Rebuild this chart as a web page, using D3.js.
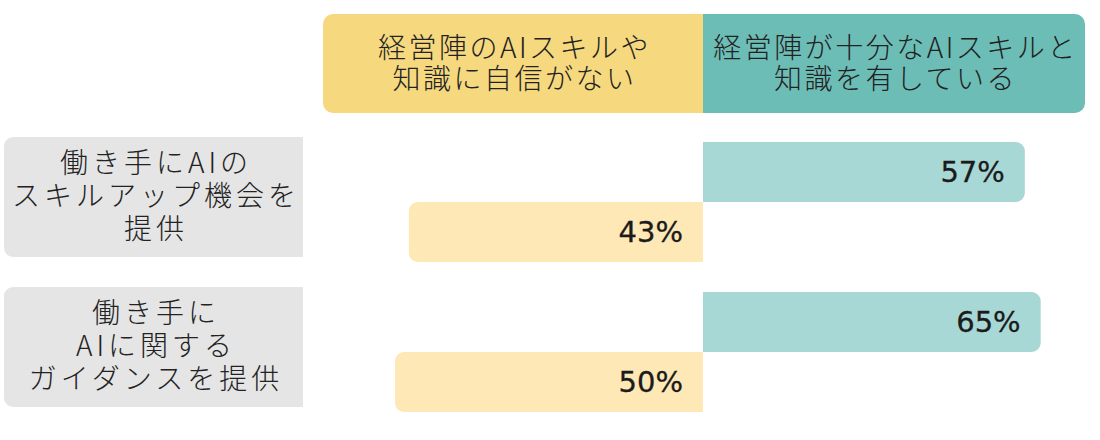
<!DOCTYPE html>
<html>
<head>
<meta charset="utf-8">
<script src="https://cdn.jsdelivr.net/npm/d3@7"></script>
<style>
  html, body { margin: 0; padding: 0; background: #fff; }
  svg { display: block; }
</style>
</head>
<body>
<svg id="chart"></svg>
<script>
const categories = ["働き手にAIのスキルアップ機会を提供", "働き手にAIに関するガイダンスを提供"];
const categoryLines = [["働き手にAIの", "スキルアップ機会を", "提供"], ["働き手に", "AIに関する", "ガイダンスを提供"]];
const seriesNames = ["経営陣のAIスキルや知識に自信がない", "経営陣が十分なAIスキルと知識を有している"];
const seriesLines = [["経営陣のAIスキルや", "知識に自信がない"], ["経営陣が十分なAIスキルと", "知識を有している"]];
const lacking = [43, 50];
const sufficient = [57, 65];

const width = 1100, height = 440;
const cx = 703;
const jp = "'Noto Sans CJK JP', 'Noto Sans', sans-serif";

const svg = d3.select("#chart").attr("width", width).attr("height", height);

// bar length from the centre line
const w = d3.scaleLinear([0, 100], [209, 407]);
const y = d3.scaleBand(categories, [138, 438]).paddingInner(0).paddingOuter(0);

// rect with only chosen corners rounded
function rr(x0, y0, x1, y1, r, left, right) {
  const p = d3.path();
  const rl = left ? r : 0, rr_ = right ? r : 0;
  p.moveTo(x0 + rl, y0);
  p.lineTo(x1 - rr_, y0);
  if (rr_) p.arcTo(x1, y0, x1, y0 + rr_, rr_);
  p.lineTo(x1, y1 - rr_);
  if (rr_) p.arcTo(x1, y1, x1 - rr_, y1, rr_);
  p.lineTo(x0 + rl, y1);
  if (rl) p.arcTo(x0, y1, x0, y1 - rl, rl);
  p.lineTo(x0, y0 + rl);
  if (rl) p.arcTo(x0, y0, x0 + rl, y0, rl);
  p.closePath();
  return p.toString();
}

// header
const headers = [
  {x0: 323, x1: cx, fill: "#f6d97f", left: true, right: false, lines: seriesLines[0]},
  {x0: cx, x1: 1085, fill: "#6dbdb7", left: false, right: true, lines: seriesLines[1]}
];
const hg = svg.append("g");
hg.selectAll("path").data(headers).join("path")
    .attr("d", d => rr(d.x0, 14, d.x1, 113, 10, d.left, d.right))
    .attr("fill", d => d.fill);
hg.selectAll("text").data(headers).join("text")
    .attr("x", d => (d.x0 + d.x1) / 2 + 1.5)
    .attr("y", 48)
    .attr("text-anchor", "middle")
    .attr("font-family", jp)
    .attr("font-weight", 300)
    .attr("font-size", 28)
    .attr("letter-spacing", 2.5)
    .attr("fill", "#222")
    .selectAll("tspan").data(d => d.lines).join("tspan")
    .attr("x", function() { return d3.select(this.parentNode).attr("x"); })
    .attr("dy", (d, i) => i === 0 ? "0.35em" : 31)
    .text(d => d);

// category boxes
const cg = svg.append("g").selectAll("g").data(categories).join("g")
    .attr("transform", d => `translate(0,${y(d)})`);
cg.append("path")
    .attr("d", rr(4, -1, 303, 119, 9, true, false))
    .attr("fill", "#e5e5e5");
cg.append("text")
    .attr("x", 156)
    .attr("y", 25)
    .attr("text-anchor", "middle")
    .attr("font-family", jp)
    .attr("font-weight", 300)
    .attr("font-size", 28)
    .attr("letter-spacing", 4)
    .attr("fill", "#222")
    .selectAll("tspan").data((d, i) => categoryLines[i]).join("tspan")
    .attr("x", 156)
    .attr("dy", (d, i) => i === 0 ? "0.35em" : 33)
    .text(d => d);

// bars
const pct = "'DejaVu Sans', sans-serif";
cg.append("path")
    .attr("d", (d, i) => rr(cx, 4, cx + w(sufficient[i]), 64, 9, false, true))
    .attr("fill", "#a8d8d6");
cg.append("path")
    .attr("d", (d, i) => rr(cx - w(lacking[i]), 64, cx, 124, 9, true, false))
    .attr("fill", "#fde8b6");

const labelStyle = t => t
    .attr("text-anchor", "end")
    .attr("dy", "0.36em")
    .attr("font-family", pct)
    .attr("font-size", 29)
    .attr("fill", "#1b1b1b")
    .attr("stroke", "#1b1b1b")
    .attr("stroke-width", 0.3);

cg.append("text")
    .attr("x", (d, i) => cx + w(sufficient[i]) - 20)
    .attr("y", 34)
    .call(labelStyle)
    .text((d, i) => sufficient[i] + "%");
cg.append("text")
    .attr("x", cx - 20)
    .attr("y", 94)
    .call(labelStyle)
    .text((d, i) => lacking[i] + "%");
</script>
</body>
</html>
